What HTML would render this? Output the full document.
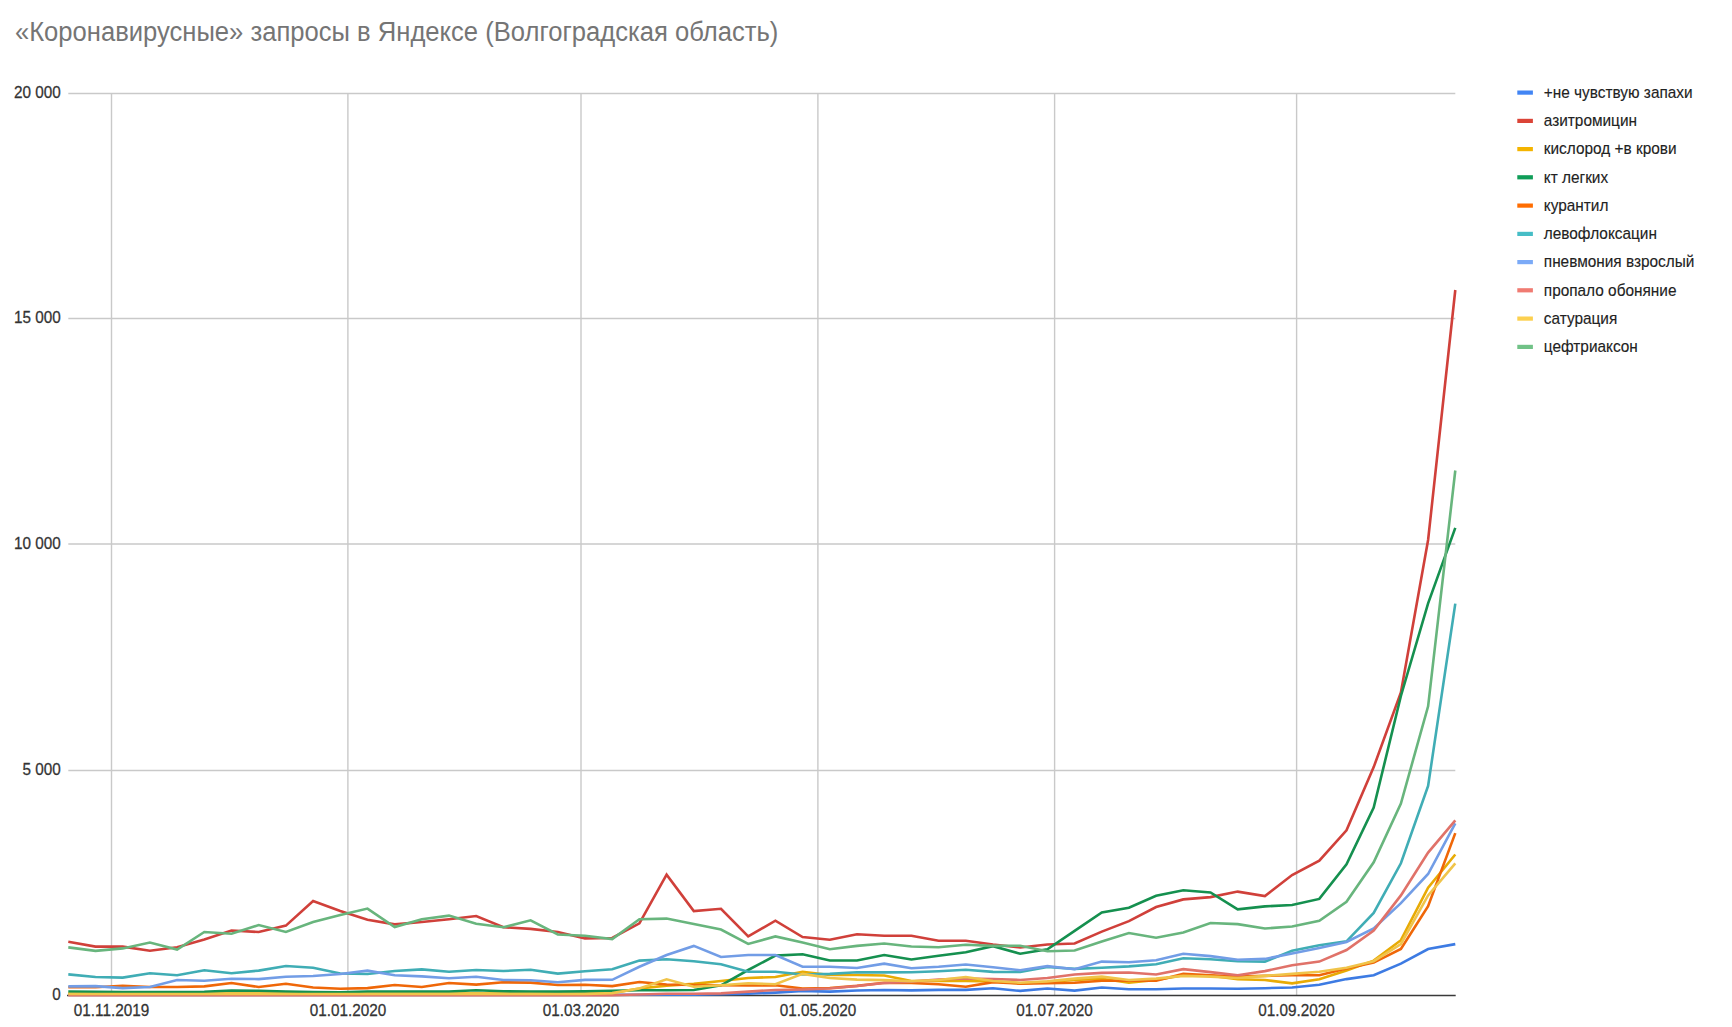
<!DOCTYPE html><html><head><meta charset="utf-8"><title>chart</title><style>
html,body{margin:0;padding:0;background:#fff;}body{width:1732px;height:1027px;overflow:hidden;}svg{display:block;}
</style></head><body>
<svg width="1732" height="1027" viewBox="0 0 1732 1027" font-family="'Liberation Sans', Arial, sans-serif">
<rect width="1732" height="1027" fill="#fff"/>
<text x="14.9" y="40.9" font-size="27.0" textLength="763.4" lengthAdjust="spacingAndGlyphs" fill="#757575">«Коронавирусные» запросы в Яндексе (Волгоградская область)</text>
<line x1="68.3" x2="1455.3" y1="93.50" y2="93.50" stroke="#c9c9c9" stroke-width="1.4"/>
<line x1="68.3" x2="1455.3" y1="318.50" y2="318.50" stroke="#c9c9c9" stroke-width="1.4"/>
<line x1="68.3" x2="1455.3" y1="544.00" y2="544.00" stroke="#c9c9c9" stroke-width="1.4"/>
<line x1="68.3" x2="1455.3" y1="770.50" y2="770.50" stroke="#c9c9c9" stroke-width="1.4"/>
<line x1="111.50" x2="111.50" y1="93.00" y2="995.50" stroke="#c9c9c9" stroke-width="1.4"/>
<line x1="347.90" x2="347.90" y1="93.00" y2="995.50" stroke="#c9c9c9" stroke-width="1.4"/>
<line x1="581.00" x2="581.00" y1="93.00" y2="995.50" stroke="#c9c9c9" stroke-width="1.4"/>
<line x1="817.90" x2="817.90" y1="93.00" y2="995.50" stroke="#c9c9c9" stroke-width="1.4"/>
<line x1="1054.60" x2="1054.60" y1="93.00" y2="995.50" stroke="#c9c9c9" stroke-width="1.4"/>
<line x1="1296.60" x2="1296.60" y1="93.00" y2="995.50" stroke="#c9c9c9" stroke-width="1.4"/>
<text transform="translate(60.8 98.30) scale(1 1.07)" font-size="15.3" fill="#333" stroke="#333" stroke-width="0.25" text-anchor="end">20 000</text>
<text transform="translate(60.8 323.30) scale(1 1.07)" font-size="15.3" fill="#333" stroke="#333" stroke-width="0.25" text-anchor="end">15 000</text>
<text transform="translate(60.8 548.80) scale(1 1.07)" font-size="15.3" fill="#333" stroke="#333" stroke-width="0.25" text-anchor="end">10 000</text>
<text transform="translate(60.8 775.30) scale(1 1.07)" font-size="15.3" fill="#333" stroke="#333" stroke-width="0.25" text-anchor="end">5 000</text>
<text transform="translate(60.8 1000.30) scale(1 1.07)" font-size="15.3" fill="#333" stroke="#333" stroke-width="0.25" text-anchor="end">0</text>
<text transform="translate(111.50 1015.7) scale(1 1.07)" font-size="15.3" fill="#333" stroke="#333" stroke-width="0.25" text-anchor="middle">01.11.2019</text>
<text transform="translate(347.90 1015.7) scale(1 1.07)" font-size="15.3" fill="#333" stroke="#333" stroke-width="0.25" text-anchor="middle">01.01.2020</text>
<text transform="translate(581.00 1015.7) scale(1 1.07)" font-size="15.3" fill="#333" stroke="#333" stroke-width="0.25" text-anchor="middle">01.03.2020</text>
<text transform="translate(817.90 1015.7) scale(1 1.07)" font-size="15.3" fill="#333" stroke="#333" stroke-width="0.25" text-anchor="middle">01.05.2020</text>
<text transform="translate(1054.60 1015.7) scale(1 1.07)" font-size="15.3" fill="#333" stroke="#333" stroke-width="0.25" text-anchor="middle">01.07.2020</text>
<text transform="translate(1296.60 1015.7) scale(1 1.07)" font-size="15.3" fill="#333" stroke="#333" stroke-width="0.25" text-anchor="middle">01.09.2020</text>
<line x1="67.0" x2="1455.7" y1="995.55" y2="995.55" stroke="#3a3a3a" stroke-width="1.5"/>
<polyline points="68.3,994.8 95.5,994.8 122.7,994.8 149.9,994.8 177.1,994.8 204.3,994.8 231.5,994.8 258.7,994.8 285.9,994.8 313.1,994.8 340.3,994.8 367.5,994.8 394.7,994.8 421.8,994.8 449.0,994.8 476.2,994.8 503.4,994.8 530.6,994.8 557.8,994.8 585.0,994.8 612.2,994.8 639.4,994.8 666.6,994.7 693.8,994.6 721.0,994.2 748.2,993.7 775.4,992.6 802.6,991.0 829.8,991.6 857.0,990.5 884.2,990.0 911.4,990.4 938.6,989.9 965.8,989.9 993.0,988.3 1020.2,990.9 1047.4,988.5 1074.6,990.6 1101.8,987.5 1128.9,989.3 1156.1,989.3 1183.3,988.5 1210.5,988.5 1237.7,988.8 1264.9,988.2 1292.1,987.5 1319.3,984.8 1346.5,979.1 1373.7,975.2 1400.9,963.6 1428.1,949.0 1455.3,944.1" fill="none" stroke="#3d7be3" stroke-width="2.6" stroke-linejoin="miter" stroke-miterlimit="6"/>
<polyline points="68.3,941.7 95.5,946.6 122.7,946.6 149.9,950.7 177.1,947.2 204.3,939.6 231.5,930.5 258.7,932.0 285.9,925.6 313.1,901.0 340.3,911.0 367.5,919.7 394.7,924.4 421.8,922.0 449.0,919.2 476.2,916.0 503.4,927.3 530.6,928.9 557.8,932.0 585.0,938.4 612.2,938.0 639.4,923.4 666.6,874.7 693.8,911.1 721.0,908.8 748.2,936.4 775.4,920.7 802.6,937.0 829.8,939.8 857.0,934.3 884.2,935.7 911.4,935.7 938.6,940.7 965.8,940.7 993.0,944.5 1020.2,947.5 1047.4,944.5 1074.6,943.5 1101.8,931.6 1128.9,921.1 1156.1,907.0 1183.3,899.4 1210.5,897.1 1237.7,891.6 1264.9,896.1 1292.1,875.0 1319.3,860.7 1346.5,830.3 1373.7,767.1 1400.9,692.4 1428.1,540.0 1455.3,290.0" fill="none" stroke="#d0403a" stroke-width="2.6" stroke-linejoin="miter" stroke-miterlimit="6"/>
<polyline points="68.3,993.5 95.5,993.5 122.7,993.5 149.9,993.5 177.1,993.5 204.3,993.5 231.5,993.5 258.7,993.5 285.9,993.5 313.1,993.5 340.3,993.5 367.5,993.5 394.7,993.5 421.8,993.5 449.0,993.5 476.2,993.5 503.4,993.5 530.6,993.5 557.8,993.5 585.0,993.5 612.2,993.0 639.4,988.5 666.6,985.6 693.8,983.9 721.0,981.0 748.2,978.0 775.4,977.0 802.6,971.8 829.8,975.0 857.0,975.0 884.2,975.5 911.4,981.0 938.6,981.0 965.8,981.0 993.0,981.5 1020.2,983.4 1047.4,982.0 1074.6,980.0 1101.8,978.7 1128.9,982.7 1156.1,980.0 1183.3,975.2 1210.5,975.6 1237.7,979.3 1264.9,980.0 1292.1,983.4 1319.3,979.3 1346.5,970.5 1373.7,960.6 1400.9,940.2 1428.1,887.6 1455.3,854.5" fill="none" stroke="#e8ab05" stroke-width="2.6" stroke-linejoin="miter" stroke-miterlimit="6"/>
<polyline points="68.3,991.5 95.5,991.8 122.7,992.0 149.9,992.0 177.1,992.0 204.3,991.8 231.5,990.5 258.7,990.8 285.9,991.5 313.1,992.0 340.3,992.2 367.5,991.5 394.7,991.5 421.8,991.5 449.0,991.5 476.2,990.2 503.4,991.3 530.6,991.5 557.8,991.6 585.0,991.4 612.2,990.8 639.4,990.2 666.6,990.2 693.8,990.0 721.0,985.3 748.2,970.0 775.4,955.6 802.6,954.2 829.8,960.5 857.0,960.5 884.2,955.0 911.4,959.5 938.6,955.8 965.8,952.2 993.0,946.2 1020.2,953.7 1047.4,949.3 1074.6,930.9 1101.8,912.5 1128.9,907.7 1156.1,895.7 1183.3,890.2 1210.5,892.5 1237.7,909.4 1264.9,906.4 1292.1,905.0 1319.3,898.9 1346.5,864.2 1373.7,807.5 1400.9,696.0 1428.1,603.4 1455.3,527.9" fill="none" stroke="#15904f" stroke-width="2.6" stroke-linejoin="miter" stroke-miterlimit="6"/>
<polyline points="68.3,987.3 95.5,987.3 122.7,985.8 149.9,987.0 177.1,987.0 204.3,986.4 231.5,983.0 258.7,987.0 285.9,983.8 313.1,987.5 340.3,988.7 367.5,988.1 394.7,985.0 421.8,987.0 449.0,983.0 476.2,984.6 503.4,982.3 530.6,982.6 557.8,985.0 585.0,984.8 612.2,986.1 639.4,982.0 666.6,984.5 693.8,985.0 721.0,985.3 748.2,985.5 775.4,985.3 802.6,988.5 829.8,988.0 857.0,985.9 884.2,982.7 911.4,983.0 938.6,984.2 965.8,986.8 993.0,982.1 1020.2,983.7 1047.4,983.1 1074.6,982.8 1101.8,980.7 1128.9,980.7 1156.1,980.7 1183.3,973.9 1210.5,975.2 1237.7,976.6 1264.9,975.9 1292.1,975.2 1319.3,975.2 1346.5,968.6 1373.7,962.6 1400.9,949.0 1428.1,906.1 1455.3,833.1" fill="none" stroke="#ef6708" stroke-width="2.6" stroke-linejoin="miter" stroke-miterlimit="6"/>
<polyline points="68.3,974.4 95.5,977.0 122.7,977.6 149.9,973.2 177.1,975.3 204.3,970.2 231.5,973.2 258.7,970.6 285.9,966.0 313.1,967.7 340.3,973.5 367.5,974.0 394.7,971.0 421.8,969.4 449.0,971.7 476.2,970.0 503.4,971.0 530.6,969.8 557.8,973.6 585.0,971.2 612.2,969.2 639.4,960.6 666.6,959.2 693.8,961.3 721.0,964.3 748.2,971.8 775.4,971.8 802.6,974.5 829.8,973.9 857.0,972.2 884.2,972.4 911.4,972.3 938.6,971.3 965.8,969.7 993.0,971.9 1020.2,972.0 1047.4,967.0 1074.6,968.9 1101.8,967.7 1128.9,966.4 1156.1,964.3 1183.3,958.3 1210.5,959.3 1237.7,961.2 1264.9,961.6 1292.1,950.7 1319.3,945.2 1346.5,941.3 1373.7,912.9 1400.9,863.3 1428.1,786.0 1455.3,603.6" fill="none" stroke="#40adb5" stroke-width="2.6" stroke-linejoin="miter" stroke-miterlimit="6"/>
<polyline points="68.3,986.4 95.5,986.1 122.7,988.1 149.9,987.0 177.1,980.0 204.3,980.7 231.5,978.8 258.7,979.1 285.9,976.8 313.1,976.0 340.3,974.0 367.5,970.6 394.7,975.3 421.8,976.4 449.0,978.2 476.2,976.8 503.4,980.0 530.6,980.3 557.8,982.3 585.0,979.9 612.2,979.8 639.4,966.8 666.6,955.0 693.8,945.9 721.0,957.0 748.2,955.0 775.4,955.0 802.6,966.7 829.8,966.7 857.0,968.0 884.2,963.6 911.4,968.2 938.6,966.7 965.8,964.5 993.0,967.3 1020.2,970.2 1047.4,966.1 1074.6,969.3 1101.8,961.6 1128.9,962.3 1156.1,960.2 1183.3,953.8 1210.5,956.1 1237.7,959.8 1264.9,958.9 1292.1,953.4 1319.3,948.0 1346.5,942.0 1373.7,928.5 1400.9,903.2 1428.1,874.0 1455.3,823.4" fill="none" stroke="#729de6" stroke-width="2.6" stroke-linejoin="miter" stroke-miterlimit="6"/>
<polyline points="68.3,995.3 95.5,995.3 122.7,995.3 149.9,995.3 177.1,995.3 204.3,995.3 231.5,995.3 258.7,995.3 285.9,995.3 313.1,995.3 340.3,995.3 367.5,995.3 394.7,995.3 421.8,995.3 449.0,995.3 476.2,995.3 503.4,995.3 530.6,995.3 557.8,995.3 585.0,995.3 612.2,995.3 639.4,994.5 666.6,993.7 693.8,993.7 721.0,993.4 748.2,991.6 775.4,990.0 802.6,989.5 829.8,988.5 857.0,986.0 884.2,983.0 911.4,981.6 938.6,979.5 965.8,978.5 993.0,979.0 1020.2,980.0 1047.4,978.0 1074.6,974.5 1101.8,972.9 1128.9,972.5 1156.1,974.5 1183.3,969.1 1210.5,972.1 1237.7,975.2 1264.9,971.1 1292.1,965.3 1319.3,961.6 1346.5,950.0 1373.7,930.5 1400.9,895.4 1428.1,852.6 1455.3,820.4" fill="none" stroke="#e07269" stroke-width="2.6" stroke-linejoin="miter" stroke-miterlimit="6"/>
<polyline points="68.3,994.0 95.5,994.0 122.7,994.0 149.9,994.0 177.1,994.0 204.3,994.0 231.5,994.0 258.7,994.0 285.9,994.0 313.1,994.0 340.3,994.0 367.5,994.0 394.7,994.0 421.8,994.0 449.0,994.0 476.2,994.0 503.4,994.0 530.6,994.0 557.8,994.0 585.0,994.0 612.2,993.1 639.4,988.5 666.6,979.3 693.8,986.8 721.0,985.2 748.2,983.2 775.4,984.3 802.6,973.9 829.8,978.0 857.0,979.6 884.2,980.1 911.4,981.2 938.6,980.0 965.8,977.0 993.0,981.0 1020.2,982.7 1047.4,981.4 1074.6,978.6 1101.8,976.6 1128.9,980.0 1156.1,978.6 1183.3,975.9 1210.5,976.6 1237.7,978.0 1264.9,975.9 1292.1,973.9 1319.3,971.8 1346.5,967.7 1373.7,961.2 1400.9,944.0 1428.1,895.4 1455.3,863.3" fill="none" stroke="#f0c44a" stroke-width="2.6" stroke-linejoin="miter" stroke-miterlimit="6"/>
<polyline points="68.3,947.4 95.5,950.9 122.7,948.4 149.9,942.5 177.1,949.5 204.3,932.0 231.5,933.8 258.7,925.0 285.9,932.0 313.1,922.0 340.3,915.0 367.5,908.6 394.7,927.0 421.8,919.2 449.0,915.6 476.2,923.8 503.4,927.3 530.6,920.3 557.8,934.5 585.0,935.7 612.2,939.1 639.4,919.3 666.6,918.6 693.8,924.1 721.0,929.5 748.2,943.9 775.4,936.4 802.6,942.5 829.8,949.3 857.0,945.9 884.2,943.5 911.4,946.5 938.6,947.3 965.8,944.7 993.0,945.9 1020.2,945.8 1047.4,951.2 1074.6,950.5 1101.8,941.5 1128.9,933.0 1156.1,937.7 1183.3,932.5 1210.5,923.0 1237.7,924.1 1264.9,928.5 1292.1,926.5 1319.3,920.7 1346.5,901.8 1373.7,862.3 1400.9,803.5 1428.1,706.3 1455.3,470.5" fill="none" stroke="#68b57d" stroke-width="2.6" stroke-linejoin="miter" stroke-miterlimit="6"/>
<rect x="1517.3" y="90.5" width="15.6" height="4.2" fill="#4285f4"/>
<text transform="translate(1543.8 97.80) scale(1 1.05)" font-size="15.4" fill="#222" stroke="#222" stroke-width="0.12">+не чувствую запахи</text>
<rect x="1517.3" y="118.8" width="15.6" height="4.2" fill="#db4437"/>
<text transform="translate(1543.8 126.05) scale(1 1.05)" font-size="15.4" fill="#222" stroke="#222" stroke-width="0.12">азитромицин</text>
<rect x="1517.3" y="147.0" width="15.6" height="4.2" fill="#f4b400"/>
<text transform="translate(1543.8 154.30) scale(1 1.05)" font-size="15.4" fill="#222" stroke="#222" stroke-width="0.12">кислород +в крови</text>
<rect x="1517.3" y="175.2" width="15.6" height="4.2" fill="#0f9d58"/>
<text transform="translate(1543.8 182.55) scale(1 1.05)" font-size="15.4" fill="#222" stroke="#222" stroke-width="0.12">кт легких</text>
<rect x="1517.3" y="203.5" width="15.6" height="4.2" fill="#ff6d01"/>
<text transform="translate(1543.8 210.80) scale(1 1.05)" font-size="15.4" fill="#222" stroke="#222" stroke-width="0.12">курантил</text>
<rect x="1517.3" y="231.8" width="15.6" height="4.2" fill="#46bdc6"/>
<text transform="translate(1543.8 239.05) scale(1 1.05)" font-size="15.4" fill="#222" stroke="#222" stroke-width="0.12">левофлоксацин</text>
<rect x="1517.3" y="260.0" width="15.6" height="4.2" fill="#7baaf7"/>
<text transform="translate(1543.8 267.30) scale(1 1.05)" font-size="15.4" fill="#222" stroke="#222" stroke-width="0.12">пневмония взрослый</text>
<rect x="1517.3" y="288.2" width="15.6" height="4.2" fill="#f07b72"/>
<text transform="translate(1543.8 295.55) scale(1 1.05)" font-size="15.4" fill="#222" stroke="#222" stroke-width="0.12">пропало обоняние</text>
<rect x="1517.3" y="316.5" width="15.6" height="4.2" fill="#fcd04f"/>
<text transform="translate(1543.8 323.80) scale(1 1.05)" font-size="15.4" fill="#222" stroke="#222" stroke-width="0.12">сатурация</text>
<rect x="1517.3" y="344.8" width="15.6" height="4.2" fill="#71c287"/>
<text transform="translate(1543.8 352.05) scale(1 1.05)" font-size="15.4" fill="#222" stroke="#222" stroke-width="0.12">цефтриаксон</text>
</svg></body></html>
